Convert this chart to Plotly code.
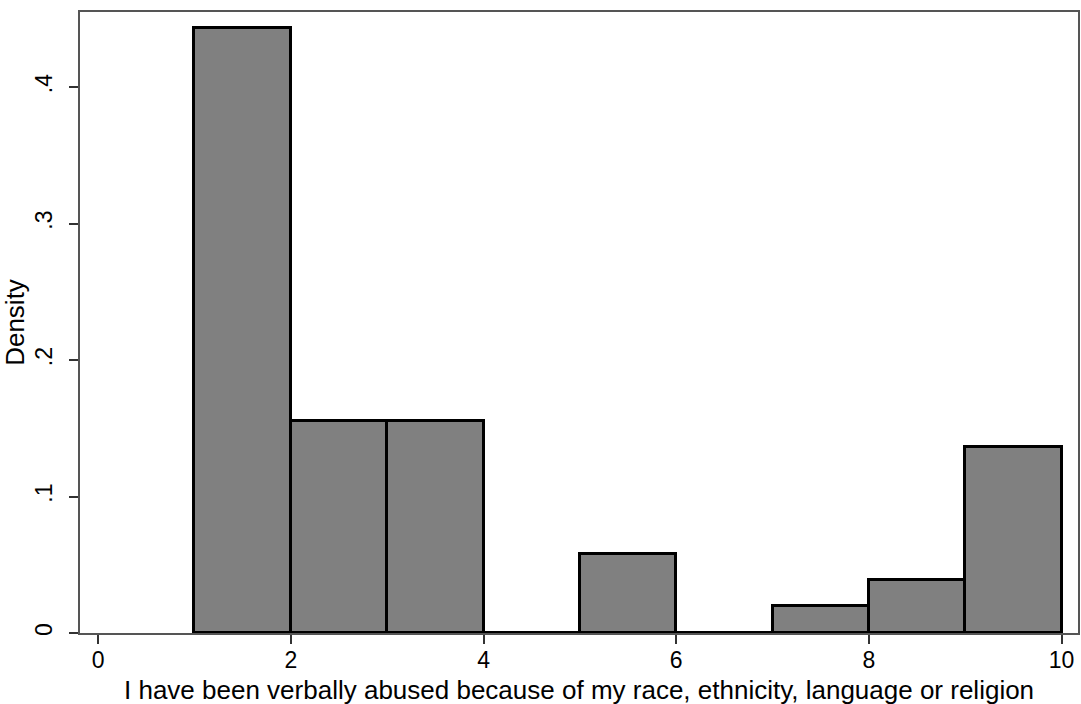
import plotly.graph_objects as go

# Histogram bins (left edge, width 1) and their densities
bin_left = [1, 2, 3, 4, 5, 6, 7, 8, 9]
density = [0.443, 0.155, 0.155, 0.0, 0.058, 0.0, 0.020, 0.039, 0.136]

x_ticks = [0, 2, 4, 6, 8, 10]
y_ticks = [0, 0.1, 0.2, 0.3, 0.4]
y_tick_text = ["0", ".1", ".2", ".3", ".4"]

x_title = "I have been verbally abused because of my race, ethnicity, language or religion"
y_title = "Density"

centers = [b + 0.5 for b in bin_left]

fig = go.Figure(
    go.Bar(
        x=centers,
        y=density,
        width=1.0,
        marker=dict(color="#808080", line=dict(color="black", width=3)),
        hoverinfo="x+y",
    )
)

family = "Liberation Sans, Arial, sans-serif"
tick_font = dict(family=family, size=23, color="black")
title_font = dict(family=family, size=26, color="black")

fig.update_layout(
    width=1081,
    height=704,
    margin=dict(l=80, r=1, t=12, b=71),
    paper_bgcolor="white",
    plot_bgcolor="white",
    font=title_font,
    showlegend=False,
    bargap=0,
)

fig.update_xaxes(
    range=[-0.188, 10.17],
    tickvals=x_ticks,
    ticks="outside",
    ticklen=9,
    tickwidth=1.5,
    tickcolor="#333",
    ticklabelstandoff=-4,
    showgrid=False,
    zeroline=False,
    showline=True,
    linecolor="#555",
    linewidth=2,
    mirror=True,
    tickfont=tick_font,
)

# x-axis title placed just below the tick labels, centred on the axis
fig.add_annotation(
    text=x_title,
    xref="paper",
    yref="paper",
    x=0.5,
    y=0,
    xanchor="center",
    yanchor="top",
    yshift=-41,
    showarrow=False,
    font=title_font,
    borderpad=0,
)

fig.update_yaxes(
    range=[0, 0.455],
    tickvals=y_ticks,
    ticktext=y_tick_text,
    tickangle=-90,
    ticks="outside",
    ticklen=9,
    tickwidth=1.5,
    tickcolor="#333",
    ticklabelstandoff=8,
    showgrid=False,
    zeroline=False,
    showline=True,
    linecolor="#555",
    linewidth=2,
    mirror=True,
    title=dict(text=y_title, standoff=0, font=title_font),
    tickfont=tick_font,
)

fig.write_html("out.html")
